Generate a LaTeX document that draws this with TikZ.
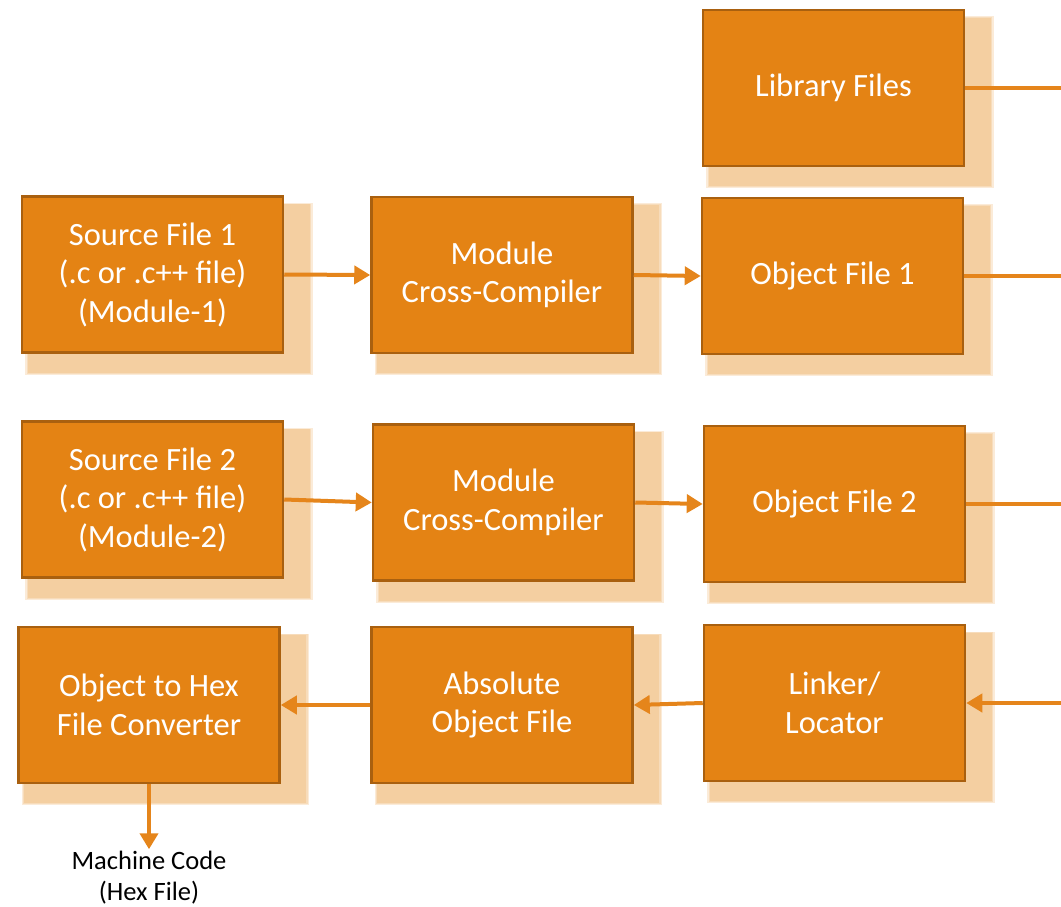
\documentclass[tikz,border=0pt]{standalone}
\usepackage{fontspec}
\setmainfont{Carlito}
\usetikzlibrary{shadows,arrows.meta}
\definecolor{boxfill}{HTML}{E48314}
\definecolor{boxline}{HTML}{A9600F}
\definecolor{shadowc}{HTML}{F4CFA1}
\definecolor{shadowm}{HTML}{F7DCBB}
\definecolor{shadowl}{HTML}{FBEBD8}
\definecolor{linkc}{HTML}{E5851B}
\tikzset{
  stage/.style={draw=boxline, line width=2.5pt, fill=boxfill, text=white,
    minimum width=261pt, minimum height=156pt, inner sep=0pt, align=center,
    font=\fontsize{32.5}{38.5}\selectfont,
    drop shadow={shadow xshift=15pt, shadow yshift=-13pt, shadow scale=1.10, fill=shadowl, opacity=1},
    drop shadow={shadow xshift=15pt, shadow yshift=-13pt, shadow scale=1.09, fill=shadowm, opacity=1},
    drop shadow={shadow xshift=15pt, shadow yshift=-13pt, shadow scale=1.08, fill=shadowc, opacity=1}},
  flow/.style={draw=linkc, line width=4pt, -{Triangle[length=16pt,width=18pt]}},
  bus/.style={draw=linkc, line width=4pt}
}
\begin{document}
\begin{tikzpicture}[x=1pt, y=-1pt]
        \def\Ca{152.5} % first column
        \def\Cb{503  } % second column
        \def\Cc{833.5} % third column
        \def\Re{1061 } % right edge

        \useasboundingbox (0,0) rectangle (1061,907);

        % Top row
        \node[stage] (lib)  at (\Cc, 88)    {Library Files};

        % Module 1
        \node[stage] (src1) at (\Ca, 274.5) {Source File 1\\(.c or .c++ file)\\(Module-1)};
        \node[stage] (mcc1) at (\Cb-1, 275) {Module\\Cross-Compiler};
        \node[stage] (obj1) at (\Cc-1, 276) {Object File 1};

        % Module 2
        \node[stage] (src2) at (\Ca, 499.5) {Source File 2\\(.c or .c++ file)\\(Module-2)};
        \node[stage] (mcc2) at (\Cb+0.5, 502.5) {Module\\Cross-Compiler};
        \node[stage] (obj2) at (\Cc+1, 504) {Object File 2};

        % Bottom row
        \node[stage] (hex)  at (149, 705)   {Object to Hex\\File Converter};
        \node[stage] (abs)  at (\Cb-1, 705) {Absolute\\Object File};
        \node[stage] (link) at (\Cc+1, 703) {Linker/\\Locator};

        \node[text=black, align=center, inner sep=2pt, font=\fontsize{26.5}{31}\selectfont]
            (mc) at (149, 878) {Machine Code\\(Hex File)};

        % Bus ends (cut at the right edge)
        \coordinate (busA) at (\Re, 88);
        \coordinate (busB) at (\Re, 276);
        \coordinate (busC) at (\Re, 504);
        \coordinate (busD) at (\Re, 703);

        % Connectors
        \draw[flow] (src1.east) -- (mcc1.west);
        \draw[flow] (mcc1.east) -- (obj1.west);
        \draw[flow] (src2.east) -- (mcc2.west);
        \draw[flow] (mcc2.east) -- (obj2.west);
        \draw[bus]  (lib.east)  -- (busA);
        \draw[bus]  (obj1.east) -- (busB);
        \draw[bus]  (obj2.east) -- (busC);
        \draw[flow] (busD)      -- (link.east);
        \draw[flow] (link.west) -- (abs.east);
        \draw[flow] (abs.west)  -- (hex.east);
        \draw[flow] (hex.south) -- (mc.north);
\end{tikzpicture}
\end{document}
